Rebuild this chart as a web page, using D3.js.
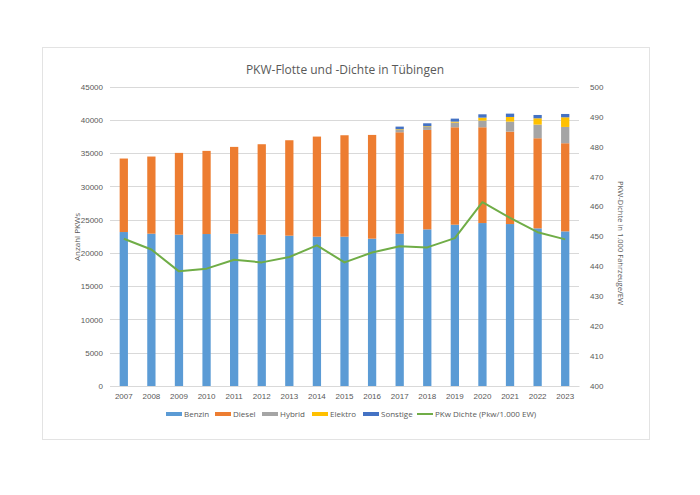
<!DOCTYPE html>
<html><head><meta charset="utf-8">
<script src="https://cdn.jsdelivr.net/npm/d3@7"></script>
<style>body{margin:0;background:#fff;}svg{display:block;font-family:"Open Sans","Liberation Sans",sans-serif;}</style>
</head><body><svg id="c" width="700" height="495"></svg>
<script>
const years = ["2007","2008","2009","2010","2011","2012","2013","2014","2015","2016","2017","2018","2019","2020","2021","2022","2023"];
const benzin   = [23150,22900,22750,22850,22900,22750,22600,22450,22450,22150,22900,23550,24250,24500,24350,23700,23250];
const diesel   = [11050,11600,12300,12500,13050,13600,14350,15050,15250,15600,15250,14950,14650,14400,13900,13550,13250];
const hybrid   = [0,0,0,0,0,0,0,0,0,0,350,450,700,1000,1500,2050,2450];
const elektro  = [0,0,0,0,0,0,0,0,0,0,100,100,150,450,700,950,1450];
const sonstige = [0,0,0,0,0,0,0,0,0,0,400,450,450,500,500,500,500];
const dichte   = [449.2,445.6,438.3,439.2,442.2,441.3,443.1,447.0,441.3,444.6,446.7,446.3,449.4,461.4,456.2,451.4,449.0];
const leftTicks = [0,5000,10000,15000,20000,25000,30000,35000,40000,45000];
const rightTicks = [400,410,420,430,440,450,460,470,480,490,500];
const seriesNames = ["Benzin","Diesel","Hybrid","Elektro","Sonstige"];
const seriesColors = ["#5B9BD5","#ED7D31","#A5A5A5","#FFC000","#4472C4"];
const lineName = "PKw Dichte (Pkw/1.000 EW)";
const lineColor = "#70AD47";
const title = "PKW-Flotte und -Dichte in Tübingen";

const svg = d3.select("#c");
const txt = "#595959";
// frame
svg.append("rect").attr("x",42.5).attr("y",47.5).attr("width",607).attr("height",392)
  .attr("fill","#fff").attr("stroke","#e3e3e3").attr("stroke-width",1);

const x = d3.scaleBand().domain(years).range([110,579]).paddingInner(0.7).paddingOuter(0.35);
const y = d3.scaleLinear().domain([0,45000]).range([386,86.7]);
const y2 = d3.scaleLinear().domain([400,500]).range([386,86.7]);

// grid
svg.append("g").selectAll("line").data(leftTicks).join("line")
  .attr("x1",110).attr("x2",579).attr("y1",d=>Math.round(y(d))+0.5).attr("y2",d=>Math.round(y(d))+0.5)
  .attr("stroke","#d9d9d9").attr("stroke-width",1);

// stacked bars
const table = years.map((yr,i)=>({year:yr,Benzin:benzin[i],Diesel:diesel[i],Hybrid:hybrid[i],Elektro:elektro[i],Sonstige:sonstige[i]}));
const stack = d3.stack().keys(seriesNames)(table);
svg.append("g").selectAll("g").data(stack).join("g").attr("fill",(d,i)=>seriesColors[i])
  .selectAll("rect").data(d=>d).join("rect")
  .attr("x",d=>x(d.data.year)).attr("width",x.bandwidth())
  .attr("y",d=>y(d[1])).attr("height",d=>Math.max(0,y(d[0])-y(d[1])));

// line
const line = d3.line().x((d,i)=>x(years[i])+x.bandwidth()/2).y(d=>y2(d));
svg.append("path").datum(dichte).attr("d",line).attr("fill","none").attr("stroke",lineColor).attr("stroke-width",2).attr("stroke-linejoin","round");

// axes
const ax = d3.axisLeft(y).tickValues(leftTicks).tickSize(0).tickPadding(7).tickFormat(d3.format("d"));
const gl = svg.append("g").attr("transform","translate(110,0)").call(ax);
gl.select(".domain").remove();
gl.selectAll("text").attr("fill",txt).style("font-size","8px");
const ar = d3.axisRight(y2).tickValues(rightTicks).tickSize(0).tickPadding(11).tickFormat(d3.format("d"));
const gr = svg.append("g").attr("transform","translate(579,0)").call(ar);
gr.select(".domain").remove();
gr.selectAll("text").attr("fill",txt).style("font-size","8px");
const axb = d3.axisBottom(x).tickSize(0).tickPadding(7);
const gb = svg.append("g").attr("transform","translate(0,386)").call(axb);
gb.select(".domain").attr("stroke","#d9d9d9");
gb.selectAll("text").attr("fill",txt).style("font-size","8px");

// title
svg.append("text").attr("x",345).attr("y",74).attr("text-anchor","middle").attr("fill",txt)
  .style("font-size","12px").text(title);
// axis titles
svg.append("text").attr("transform","translate(80,237) rotate(-90)").attr("text-anchor","middle")
  .attr("fill",txt).style("font-size","8px").text("Anzahl PKWs");
svg.append("text").attr("transform","translate(618,243) rotate(90)").attr("text-anchor","middle")
  .attr("fill",txt).style("font-size","7.6px").text("PKW-Dichte in 1.000 Fahrzeuge/EW");

// legend
const legX = [166,215,262,312,363];
const lg = svg.append("g");
seriesNames.forEach((n,i)=>{
  lg.append("rect").attr("x",legX[i]).attr("y",412).attr("width",16).attr("height",4).attr("fill",seriesColors[i]);
  lg.append("text").attr("x",legX[i]+18).attr("y",417).attr("fill",txt).style("font-size","8px").text(n);
});
lg.append("line").attr("x1",417).attr("x2",433).attr("y1",414).attr("y2",414).attr("stroke",lineColor).attr("stroke-width",2);
lg.append("text").attr("x",435).attr("y",417).attr("fill",txt).style("font-size","8px").text(lineName);
</script></body></html>
